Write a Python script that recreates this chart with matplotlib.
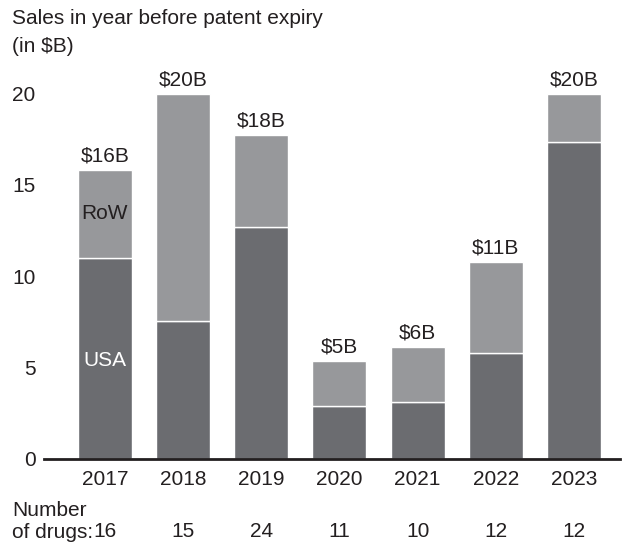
import numpy as np
import matplotlib.pyplot as plt
from matplotlib.transforms import ScaledTranslation

plt.rcParams['font.family'] = ['Liberation Sans', 'DejaVu Sans']

years = ['2017', '2018', '2019', '2020', '2021', '2022', '2023']
usa = [11.0, 7.55, 12.7, 2.9, 3.1, 5.8, 17.3]
total = [15.8, 19.95, 17.7, 5.35, 6.1, 10.75, 19.95]
row = [t - u for t, u in zip(total, usa)]
total_labels = ['$16B', '$20B', '$18B', '$5B', '$6B', '$11B', '$20B']
n_drugs = ['16', '15', '24', '11', '10', '12', '12']

c_usa = '#6b6c70'
c_row = '#97989b'
txt = '#231f20'
fs = 15

fig = plt.figure(figsize=(6.27, 5.43), dpi=100)
ax = fig.add_axes([0.0702, 0.1547, 0.9187, 0.7077])

x = np.arange(len(years))
w = 0.69
ax.bar(x, usa, width=w, color=c_usa, edgecolor='white', linewidth=1)
ax.bar(x, row, bottom=usa, width=w, color=c_row, edgecolor='white', linewidth=1)

for i in range(len(years)):
    ax.text(x[i], total[i] + 0.25, total_labels[i], ha='center', va='bottom',
            fontsize=fs, color=txt)

ax.text(x[0], 13.4, 'RoW', ha='center', va='center', fontsize=fs, color=txt)
ax.text(x[0], 5.4, 'USA', ha='center', va='center', fontsize=fs, color='white')

ax.set_xlim(-0.78, 6.59)
ax.set_ylim(0, 21)
ax.set_yticks([0, 5, 10, 15, 20])
ax.set_xticks(x)
ax.set_xticklabels(years)
ax.tick_params(axis='both', length=0, labelsize=fs, labelcolor=txt)
ax.tick_params(axis='y', pad=6)
ax.tick_params(axis='x', pad=8)
for s in ['top', 'right', 'left']:
    ax.spines[s].set_visible(False)
ax.spines['bottom'].set_linewidth(2)
ax.spines['bottom'].set_color(txt)

fig.text(12 / 627, 1 - 19 / 543, 'Sales in year before patent expiry', ha='left', va='center',
         fontsize=fs, color=txt)
fig.text(12 / 627, 1 - 46 / 543, '(in $B)', ha='left', va='center',
         fontsize=fs, color=txt)

fig.text(12 / 627, 1 - 510 / 543, 'Number', ha='left', va='center',
         fontsize=fs, color=txt)
fig.text(12 / 627, 1 - 532 / 543, 'of drugs:', ha='left', va='center',
         fontsize=fs, color=txt)
shift = ScaledTranslation(0, -(532 - 459) / 100, fig.dpi_scale_trans)
for i in range(len(years)):
    ax.text(x[i], 0, n_drugs[i], ha='center', va='center', fontsize=fs, color=txt,
            transform=ax.get_xaxis_transform() + shift)

fig.savefig('out.png', dpi=100)
